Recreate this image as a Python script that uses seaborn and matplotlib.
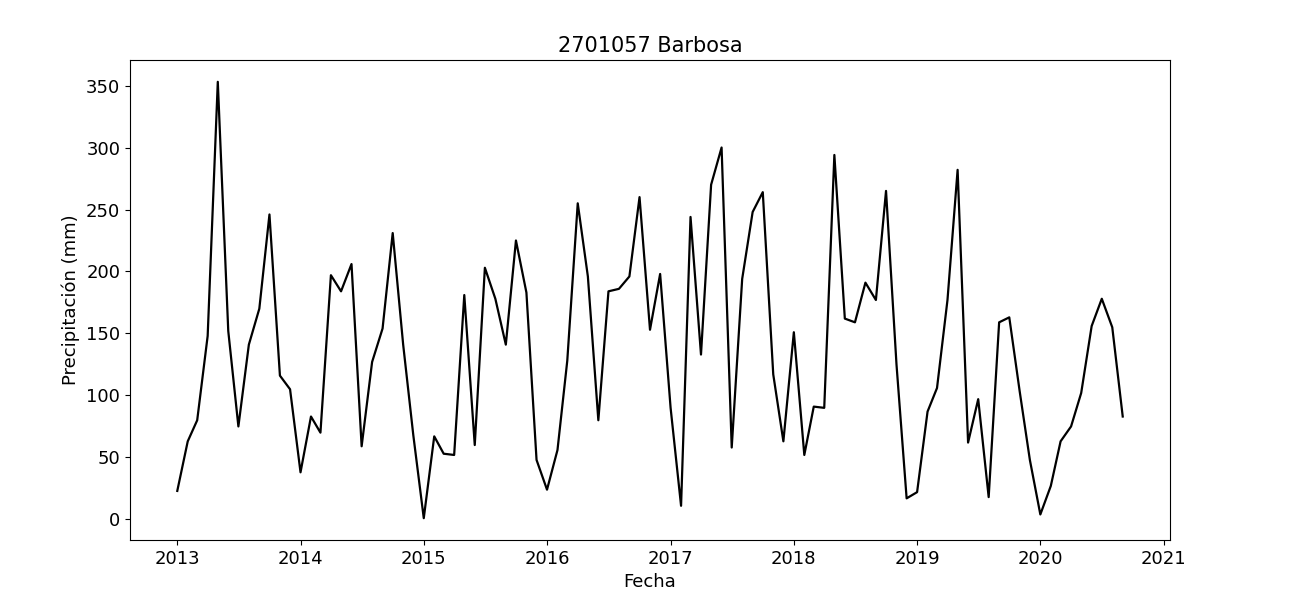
import pandas as pd
import matplotlib
matplotlib.use("Agg")
import matplotlib.pyplot as plt
import matplotlib.dates as mdates
import seaborn as sns

# --- DATOS ---
ESTACION = "2701057 Barbosa"
INICIO = "2013-01-01"
precip_2013 = [23, 63, 80, 148, 353, 152, 75, 141, 170, 246, 116, 105]
precip_2014 = [38, 83, 70, 197, 184, 206, 59, 127, 154, 231, 141, 68]
precip_2015 = [1, 67, 53, 52, 181, 60, 203, 178, 141, 225, 183, 48]
precip_2016 = [24, 56, 128, 255, 196, 80, 184, 186, 196, 260, 153, 198]
precip_2017 = [90, 11, 244, 133, 270, 300, 58, 194, 248, 264, 117, 63]
precip_2018 = [151, 52, 91, 90, 294, 162, 159, 191, 177, 265, 125, 17]
precip_2019 = [22, 87, 106, 177, 282, 62, 97, 18, 159, 163, 103, 48]
precip_2020 = [4, 27, 63, 75, 102, 156, 178, 155, 83]

valores = (precip_2013 + precip_2014 + precip_2015 + precip_2016 +
           precip_2017 + precip_2018 + precip_2019 + precip_2020)
fechas = pd.date_range(INICIO, periods=len(valores), freq="MS")
df = pd.DataFrame({"Fecha": fechas, "Precipitacion": valores})

# --- GRAFICO ---
fig, ax = plt.subplots(figsize=(13, 6), dpi=100)
fig.subplots_adjust(left=0.1, right=0.9, top=0.9, bottom=0.1)

sns.lineplot(data=df, x="Fecha", y="Precipitacion", color="black", linewidth=1.6, ax=ax)

ax.set_title(ESTACION, fontsize=15)
ax.set_xlabel("Fecha", fontsize=13)
ax.set_ylabel("Precipitación (mm)", fontsize=13)
ax.xaxis.set_major_locator(mdates.YearLocator())
ax.xaxis.set_major_formatter(mdates.DateFormatter("%Y"))
ax.tick_params(labelsize=13)

fig.savefig("out.png", dpi=100, facecolor="white")
